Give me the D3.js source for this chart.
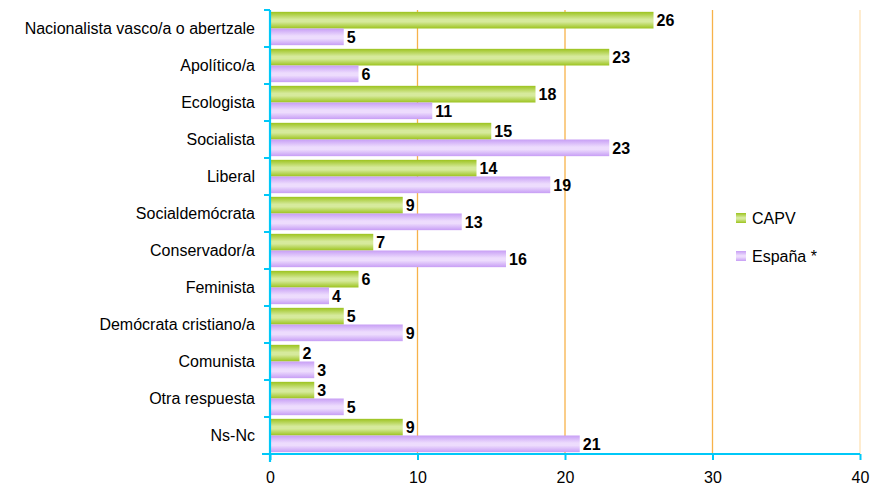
<!DOCTYPE html>
<html><head><meta charset="utf-8">
<script src="https://cdn.jsdelivr.net/npm/d3@7"></script>
<style>body{margin:0;background:#fff}svg{display:block;font-family:"Liberation Sans",Arial,sans-serif}</style>
</head><body><svg id="c" width="885" height="489"></svg>
<script>
const categories = ["Nacionalista vasco/a o abertzale","Apolítico/a","Ecologista","Socialista","Liberal","Socialdemócrata","Conservador/a","Feminista","Demócrata cristiano/a","Comunista","Otra respuesta","Ns-Nc"];
const capv = [26,23,18,15,14,9,7,6,5,2,3,9];
const espana = [5,6,11,23,19,13,16,4,9,3,5,21];
const seriesNames = ["CAPV","España *"];
const xTicks = [0,10,20,30,40];

const svg = d3.select("#c");
const x = d3.scaleLinear().domain([0,40]).range([270,860]);
const y = d3.scaleBand().domain(categories).range([10,454]).paddingInner(0).paddingOuter(0);
const inner = d3.scaleBand().domain(seriesNames).range([0,y.bandwidth()]).paddingInner(0).paddingOuter(0.11);

const defs = svg.append("defs");
function grad(id, edge, mid){
  const g = defs.append("linearGradient").attr("id",id).attr("x1",0).attr("y1",0).attr("x2",0).attr("y2",1);
  g.append("stop").attr("offset","0%").attr("stop-color",edge);
  g.append("stop").attr("offset","45%").attr("stop-color",mid);
  g.append("stop").attr("offset","60%").attr("stop-color",mid);
  g.append("stop").attr("offset","100%").attr("stop-color",edge);
}
grad("gG","#9cc31e","#d6ea9c");
grad("gP","#c79ef5","#eddcfd");

// gridlines
svg.append("g").selectAll("line").data(xTicks.slice(1)).join("line")
  .attr("x1",d=>x(d)).attr("x2",d=>x(d)).attr("y1",10).attr("y2",454)
  .attr("stroke",d=>d===40?"#fde2b5":"#f7b24a").attr("stroke-width",1.3);

const series = [{name:"CAPV",vals:capv,fill:"url(#gG)"},{name:"España *",vals:espana,fill:"url(#gP)"}];
series.forEach(s=>{
  const g = svg.append("g");
  g.selectAll("rect").data(categories).join("rect")
    .attr("x",x(0)).attr("y",(c)=>y(c)+inner(s.name))
    .attr("width",(c,i)=>x(s.vals[i])-x(0)).attr("height",inner.bandwidth())
    .attr("fill",s.fill);
  g.selectAll("text").data(categories).join("text")
    .attr("x",(c,i)=>x(s.vals[i])+3).attr("y",(c)=>y(c)+inner(s.name)+inner.bandwidth()/2+6)
    .attr("font-size",16).attr("font-weight","bold").attr("fill","#000")
    .text((c,i)=>s.vals[i]);
});

// x axis
const xa = svg.append("g").attr("transform","translate(0,454)")
  .call(d3.axisBottom(x).tickValues(xTicks).tickSize(6).tickPadding(12));
xa.select(".domain").attr("stroke","#00c8f8").attr("stroke-width",2.2).attr("d","M"+(x(0)-8)+",0H"+x(40));
xa.selectAll(".tick line").attr("stroke","#00c8f8").attr("stroke-width",2);
xa.selectAll(".tick text").attr("font-size",16).attr("fill","#000").attr("font-family","Liberation Sans, Arial, sans-serif");

// y axis
const ya = svg.append("g").attr("transform","translate(270,0)");
ya.append("line").attr("x1",0).attr("x2",0).attr("y1",10).attr("y2",462).attr("stroke","#00c8f8").attr("stroke-width",2.2);
const bounds = categories.map(c=>y(c)).concat([454]);
ya.selectAll("line.t").data(bounds).join("line").attr("class","t")
  .attr("x1",-6).attr("x2",0).attr("y1",d=>d).attr("y2",d=>d).attr("stroke","#00c8f8").attr("stroke-width",2);
ya.selectAll("text").data(categories).join("text")
  .attr("x",-15).attr("y",c=>y(c)+y.bandwidth()/2+5.5).attr("text-anchor","end")
  .attr("font-size",16).attr("fill","#000").text(c=>c);

// legend
const lg = svg.append("g");
[["CAPV","url(#gG)",218],["España *","url(#gP)",256]].forEach(([n,f,yy])=>{
  lg.append("rect").attr("x",736).attr("y",yy-5).attr("width",10).attr("height",10).attr("fill",f);
  lg.append("text").attr("x",752).attr("y",yy+5.5).attr("font-size",16).attr("fill","#000").text(n);
});
</script></body></html>
